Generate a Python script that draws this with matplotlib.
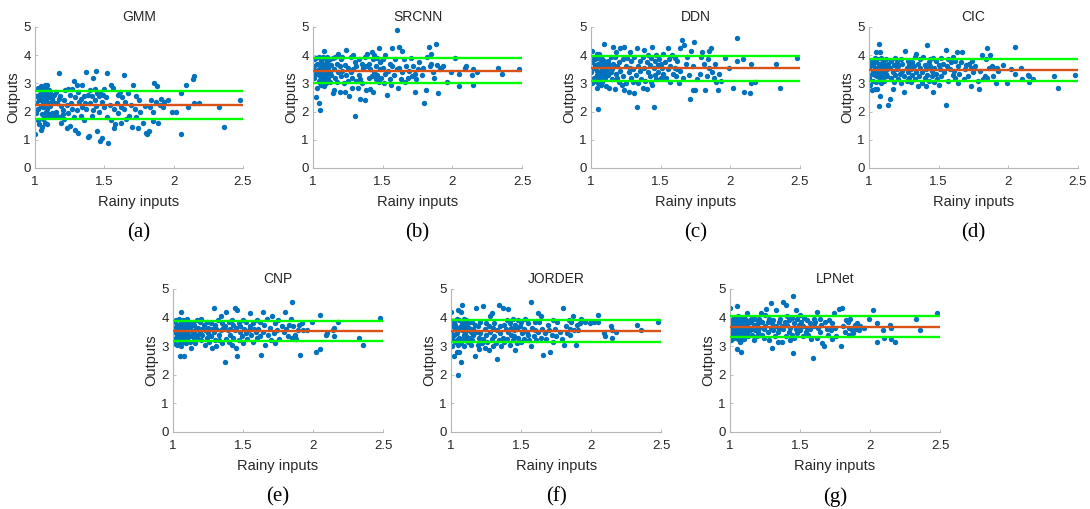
import matplotlib
matplotlib.use("Agg")
import matplotlib.pyplot as plt
import numpy as np

# quality score of the rainy input images (shared by every method)
rainy = [
    1.00, 1.00, 1.01, 1.01, 1.01, 1.02, 1.02, 1.02, 1.03, 1.03,
    1.03, 1.04, 1.04, 1.04, 1.04, 1.05, 1.05, 1.05, 1.05, 1.06,
    1.06, 1.06, 1.06, 1.07, 1.07, 1.07, 1.07, 1.08, 1.08, 1.08,
    1.08, 1.08, 1.09, 1.09, 1.09, 1.09, 1.10, 1.10, 1.10, 1.10,
    1.11, 1.11, 1.11, 1.12, 1.12, 1.12, 1.13, 1.13, 1.14, 1.14,
    1.15, 1.15, 1.16, 1.16, 1.17, 1.17, 1.18, 1.18, 1.19, 1.19,
    1.20, 1.20, 1.21, 1.21, 1.22, 1.23, 1.23, 1.24, 1.24, 1.25,
    1.25, 1.26, 1.27, 1.27, 1.28, 1.28, 1.29, 1.29, 1.30, 1.30,
    1.31, 1.31, 1.32, 1.33, 1.33, 1.34, 1.34, 1.35, 1.35, 1.36,
    1.37, 1.37, 1.38, 1.38, 1.39, 1.40, 1.40, 1.41, 1.41, 1.42,
    1.42, 1.43, 1.43, 1.44, 1.44, 1.45, 1.45, 1.46, 1.46, 1.47,
    1.47, 1.48, 1.48, 1.49, 1.50, 1.50, 1.51, 1.52, 1.52, 1.53,
    1.54, 1.55, 1.55, 1.56, 1.57, 1.57, 1.58, 1.59, 1.60, 1.60,
    1.61, 1.62, 1.62, 1.63, 1.64, 1.64, 1.65, 1.66, 1.67, 1.68,
    1.69, 1.70, 1.71, 1.72, 1.73, 1.73, 1.74, 1.75, 1.76, 1.78,
    1.79, 1.80, 1.81, 1.82, 1.83, 1.84, 1.85, 1.85, 1.86, 1.87,
    1.88, 1.89, 1.90, 1.91, 1.92, 1.93,
    1.96, 1.99, 2.02, 2.05, 2.05, 2.09, 2.10, 2.14, 2.15, 2.15,
    2.18, 2.33, 2.36, 2.48,
]

gmm_out = [
    1.20, 2.05, 2.55, 1.95, 2.30, 2.85, 2.10, 1.70, 2.60, 2.40,
    1.55, 2.90, 2.20, 1.35, 2.70, 2.50, 1.90, 2.80, 1.45, 2.65,
    2.15, 2.35, 1.75, 2.95, 2.50, 1.60, 2.25, 2.70, 2.00, 2.85,
    1.80, 2.40, 2.95, 2.10, 1.55, 2.60, 2.30, 2.75, 1.90, 2.50,
    2.20, 1.85, 2.65, 2.45, 1.95, 2.55, 1.85, 2.35, 2.60, 1.90,
    2.00, 2.70, 1.85, 2.30, 3.38, 2.45, 1.80, 2.55, 1.60, 2.20,
    2.05, 1.90, 2.40, 1.75, 2.75, 1.40, 2.25, 2.80, 1.95, 2.60,
    1.50, 2.30, 2.10, 2.80, 1.80, 3.10, 2.50, 1.35, 2.95, 2.05,
    1.25, 2.70, 2.35, 1.85, 2.45, 2.95, 2.15, 1.70, 2.55, 2.30,
    3.40, 2.10, 1.10, 2.60, 1.15, 2.30, 2.75, 1.85, 2.55, 3.20,
    2.05, 2.40, 2.80, 3.45, 2.20, 2.65, 1.30, 2.00, 2.55, 0.95,
    2.70, 1.05, 2.35, 2.60, 2.15, 2.80, 2.50, 1.80, 3.38, 0.88,
    2.25, 2.95, 1.70, 2.85, 1.40, 2.10, 1.55, 2.30, 2.60, 1.95,
    2.70, 2.15, 1.60, 2.50, 3.28, 2.10, 2.35, 1.75, 2.65, 1.85,
    2.25, 1.45, 2.95, 2.10, 1.80, 2.55, 1.40, 2.40, 2.00, 1.60,
    2.20, 1.25, 1.20, 1.30, 2.15, 2.40, 1.65, 2.00, 3.00, 2.35,
    2.90, 1.60, 2.25, 2.45, 2.15, 2.35,
    2.40, 2.00, 2.00, 1.20, 2.65, 2.95, 2.15, 3.15, 3.25, 2.30,
    2.30, 2.15, 1.45, 2.40,
]

srcnn_out = [
    3.55, 3.30, 3.85, 3.20, 3.60, 2.50, 3.45, 3.90, 2.85, 3.35,
    3.70, 2.30, 3.10, 3.50, 3.95, 2.05, 3.25, 3.65, 3.00, 3.40,
    3.80, 2.95, 3.55, 3.15, 3.70, 3.30, 3.95, 2.90, 3.50, 4.15,
    3.05, 3.60, 3.85, 3.25, 3.45, 3.00, 3.75, 3.35, 3.95, 3.10,
    3.55, 3.70, 3.20, 3.85, 3.40, 3.05, 3.65, 3.30, 2.65, 3.90,
    3.50, 2.75, 3.95, 3.20, 3.05, 3.70, 3.40, 4.05, 2.70, 3.60,
    3.85, 3.25, 3.95, 3.45, 3.00, 2.70, 3.65, 3.30, 4.20, 3.55,
    3.10, 2.55, 3.40, 3.95, 3.20, 2.85, 4.00, 3.50, 1.85, 3.75,
    3.10, 3.60, 2.85, 3.30, 3.85, 2.45, 3.15, 3.70, 3.00, 3.55,
    2.40, 3.95, 2.75, 3.60, 4.05, 3.20, 3.70, 2.80, 3.50, 4.10,
    3.25, 3.85, 2.70, 3.40, 4.00, 3.15, 3.60, 3.90, 3.30, 4.25,
    3.05, 3.50, 3.75, 3.20, 3.55, 3.85, 3.00, 3.35, 4.00, 2.60,
    3.45, 3.70, 3.15, 2.95, 3.60, 4.25, 3.30, 3.85, 3.50, 4.90,
    2.85, 3.55, 4.30, 3.15, 4.15, 3.40, 3.85, 3.05, 3.60, 3.20,
    3.45, 3.90, 3.25, 3.60, 2.70, 3.35, 3.15, 3.50, 3.75, 3.30,
    3.55, 2.30, 2.75, 3.95, 4.30, 3.60, 3.70, 4.05, 3.40, 3.20,
    4.40, 3.65, 2.65, 3.50, 3.55, 3.60,
    3.05, 3.40, 3.90, 2.90, 3.35, 3.55, 3.60, 3.30, 2.95, 3.50,
    3.40, 3.55, 3.35, 3.50,
]

ddn_out = [
    3.80, 3.40, 4.15, 3.00, 3.75, 3.55, 3.20, 3.95, 3.65, 3.10,
    3.85, 2.85, 3.45, 4.05, 3.30, 2.10, 3.70, 3.00, 3.90, 3.35,
    3.60, 3.15, 4.05, 2.95, 3.75, 3.40, 3.25, 3.85, 3.50, 3.05,
    3.65, 3.30, 4.40, 3.50, 3.15, 3.80, 3.60, 3.35, 3.70, 3.20,
    3.45, 3.65, 2.90, 3.55, 3.80, 3.30, 2.85, 3.65, 3.40, 3.95,
    3.50, 3.15, 4.30, 3.70, 2.80, 3.95, 3.35, 4.10, 3.60, 3.20,
    3.75, 3.05, 4.25, 3.45, 2.95, 3.85, 3.25, 4.30, 2.75, 3.60,
    3.00, 3.90, 3.40, 2.70, 4.10, 3.55, 3.20, 3.80, 3.05, 3.50,
    3.95, 2.65, 3.30, 2.15, 4.25, 3.60, 3.00, 3.80, 3.45, 3.15,
    3.95, 2.85, 3.55, 4.20, 3.10, 3.75, 2.80, 3.40, 4.00, 3.25,
    3.65, 3.05, 3.90, 2.95, 4.30, 2.15, 3.55, 3.80, 3.30, 4.00,
    3.15, 3.65, 3.40, 3.85, 3.20, 3.70, 3.55, 3.35, 4.05, 3.75,
    3.20, 4.25, 3.50, 3.85, 3.05, 3.60, 4.00, 3.35, 3.55, 3.90,
    3.25, 3.50, 3.80, 3.00, 4.25, 3.45, 4.55, 3.20, 4.35, 3.70,
    3.95, 3.30, 2.45, 4.15, 2.75, 3.60, 4.45, 2.75, 3.15, 3.35,
    3.95, 4.10, 3.70, 2.75, 3.25, 3.85, 3.55, 4.15, 4.25, 3.40,
    3.20, 3.70, 3.05, 2.75, 3.35, 3.10,
    3.90, 3.55, 2.85, 4.60, 3.80, 3.85, 2.70, 2.65, 3.70, 3.00,
    3.05, 3.70, 2.85, 3.90,
]

cic_out = [
    3.55, 3.20, 3.70, 2.95, 3.60, 3.35, 2.75, 3.80, 3.45, 3.10,
    3.65, 3.30, 3.90, 3.50, 2.80, 3.40, 3.75, 3.05, 4.10, 2.80,
    3.55, 3.25, 3.85, 4.40, 2.20, 3.60, 3.35, 2.55, 3.70, 4.10,
    3.15, 3.50, 3.90, 3.30, 3.65, 3.00, 3.80, 3.40, 3.55, 3.20,
    3.70, 3.45, 3.10, 3.85, 3.35, 3.60, 3.25, 3.50, 2.25, 3.70,
    2.45, 3.55, 3.20, 3.80, 3.40, 2.80, 3.65, 3.05, 3.90, 3.30,
    3.50, 3.75, 3.15, 3.60, 3.35, 3.85, 3.00, 3.45, 3.70, 2.70,
    3.25, 4.15, 3.55, 3.10, 3.80, 3.40, 3.20, 3.65, 3.05, 3.50,
    3.75, 3.30, 3.60, 3.95, 3.15, 4.05, 3.40, 2.90, 3.70, 3.25,
    3.55, 3.85, 3.00, 3.40, 3.95, 3.20, 3.65, 3.50, 2.90, 4.35,
    3.30, 3.75, 3.10, 3.60, 3.85, 3.25, 3.45, 2.70, 3.90, 3.05,
    3.55, 3.35, 3.80, 3.15, 3.65, 2.95, 3.50, 3.90, 3.25, 3.70,
    3.40, 4.20, 2.25, 3.60, 3.85, 3.10, 3.50, 3.75, 3.30, 3.95,
    3.45, 3.20, 3.80, 4.10, 3.00, 3.60, 3.35, 3.75, 4.10, 3.15,
    3.50, 3.65, 3.25, 3.70, 2.90, 3.55, 3.80, 3.40, 3.60, 3.10,
    2.80, 3.45, 4.00, 3.15, 3.25, 3.85, 4.25, 3.20, 3.55, 4.00,
    3.60, 3.25, 3.55, 3.00, 3.55, 3.45,
    3.65, 3.00, 3.50, 4.30, 3.35, 3.55, 3.15, 3.30, 3.25, 3.05,
    3.15, 3.25, 2.85, 3.30,
]

cnp_out = [
    3.50, 3.85, 3.25, 3.65, 3.10, 3.45, 3.90, 3.30, 3.60, 3.05,
    3.75, 3.40, 3.55, 3.20, 3.95, 2.65, 3.50, 3.70, 3.15, 4.20,
    3.35, 3.80, 3.00, 3.60, 3.45, 3.25, 3.90, 2.65, 3.55, 3.70,
    3.15, 3.40, 3.85, 3.30, 3.60, 3.10, 3.75, 3.50, 3.95, 3.25,
    3.60, 3.40, 3.80, 3.15, 3.55, 3.35, 3.70, 2.95, 3.45, 3.85,
    3.30, 3.75, 3.55, 3.10, 3.90, 3.40, 3.65, 3.25, 3.85, 3.50,
    3.95, 3.20, 3.60, 3.40, 3.75, 3.05, 3.55, 3.85, 3.30, 3.65,
    3.45, 3.15, 3.80, 3.35, 3.60, 2.95, 4.35, 3.50, 3.20, 3.75,
    3.00, 3.60, 3.90, 3.40, 3.20, 4.05, 3.55, 3.80, 3.10, 3.65,
    2.45, 3.70, 3.25, 4.20, 3.55, 3.85, 3.15, 3.60, 3.40, 3.90,
    3.05, 3.75, 3.30, 4.35, 3.55, 3.65, 2.95, 4.25, 2.65, 3.80,
    3.20, 3.50, 3.70, 3.35, 3.90, 3.10, 3.60, 3.45, 3.85, 3.25,
    3.55, 3.70, 4.15, 3.40, 3.80, 3.15, 3.60, 3.50, 3.90, 3.30,
    3.60, 3.35, 3.85, 2.70, 4.20, 3.50, 3.75, 3.05, 3.95, 3.40,
    3.65, 3.20, 4.05, 3.45, 3.10, 3.80, 3.55, 3.90, 3.25, 3.70,
    3.50, 4.20, 3.60, 3.35, 3.75, 3.95, 4.55, 3.30, 3.70, 3.40,
    3.25, 3.55, 3.75, 2.70, 3.80, 3.55,
    3.55, 3.85, 2.80, 4.10, 2.90, 3.40, 3.45, 3.55, 3.65, 3.35,
    3.85, 3.30, 3.05, 4.00,
]

jorder_out = [
    3.50, 4.20, 3.00, 3.70, 3.25, 3.85, 2.65, 3.40, 3.60, 3.15,
    3.75, 2.80, 3.45, 3.95, 3.20, 2.00, 4.25, 3.55, 3.05, 3.65,
    2.80, 3.90, 3.30, 2.45, 3.70, 4.20, 3.10, 4.45, 3.55, 3.85,
    3.25, 3.65, 3.95, 3.40, 3.00, 3.75, 3.50, 3.85, 3.20, 3.60,
    3.70, 3.35, 3.90, 3.15, 3.55, 3.80, 3.30, 3.65, 3.05, 3.50,
    3.85, 3.20, 3.60, 3.40, 3.75, 2.65, 4.35, 3.50, 3.05, 3.70,
    3.30, 2.90, 3.85, 3.45, 3.10, 4.40, 3.25, 3.60, 2.95, 3.80,
    3.40, 3.15, 3.70, 2.85, 4.05, 3.50, 3.25, 4.15, 3.00, 3.65,
    3.35, 3.80, 3.10, 3.55, 2.55, 4.45, 3.20, 3.70, 3.45, 3.00,
    4.35, 3.30, 3.75, 3.15, 3.60, 3.90, 3.25, 4.30, 3.50, 3.05,
    3.80, 3.40, 3.65, 3.20, 3.95, 3.55, 3.35, 2.85, 3.75, 3.10,
    3.60, 3.90, 3.30, 3.70, 3.15, 3.85, 3.45, 3.60, 3.25, 3.95,
    3.50, 3.40, 3.80, 3.20, 4.55, 3.00, 3.65, 3.35, 3.85, 3.55,
    3.20, 4.15, 3.50, 3.85, 3.30, 4.05, 3.60, 2.70, 3.45, 3.25,
    3.75, 3.55, 2.80, 3.40, 3.90, 3.15, 3.60, 3.35, 3.85, 3.50,
    3.25, 4.35, 3.05, 3.70, 3.45, 3.90, 3.60, 3.40, 3.85, 4.05,
    3.55, 3.05, 3.75, 3.55, 3.80, 3.95,
    3.85, 3.80, 3.85, 4.10, 3.85, 3.45, 3.35, 3.70, 3.30, 3.55,
    3.50, 3.75, 3.55, 3.85,
]

lpnet_out = [
    4.35, 3.45, 3.80, 3.20, 3.65, 3.95, 3.35, 3.70, 3.50, 4.00,
    3.30, 3.85, 3.55, 3.40, 3.75, 4.40, 2.90, 3.60, 3.90, 3.25,
    3.70, 3.45, 4.05, 3.15, 3.80, 3.55, 3.35, 2.80, 3.95, 3.65,
    3.20, 3.75, 3.50, 3.90, 3.30, 3.60, 4.00, 3.40, 3.85, 3.25,
    3.70, 3.55, 3.95, 3.45, 4.15, 3.65, 3.35, 3.80, 3.55, 3.90,
    3.60, 3.85, 3.40, 4.00, 3.20, 3.75, 3.55, 3.95, 3.35, 3.70,
    3.80, 3.50, 3.95, 3.65, 4.15, 3.40, 3.85, 3.60, 3.30, 4.10,
    3.70, 4.30, 3.50, 3.85, 3.20, 3.95, 3.65, 4.50, 2.95, 3.80,
    3.55, 3.90, 3.35, 4.25, 3.70, 3.50, 3.15, 3.85, 3.60, 3.95,
    3.70, 3.15, 4.55, 3.60, 3.85, 4.45, 3.35, 3.75, 4.05, 3.50,
    3.90, 3.20, 3.65, 4.00, 3.40, 4.75, 2.75, 3.80, 3.30, 4.25,
    3.60, 3.95, 3.45, 3.75, 4.10, 3.55, 3.85, 3.35, 3.70, 4.00,
    3.50, 3.65, 3.90, 3.40, 3.80, 3.60, 3.25, 2.60, 3.95, 3.70,
    3.85, 3.30, 4.20, 3.65, 3.95, 3.50, 3.75, 3.10, 3.00, 3.85,
    3.60, 3.40, 3.90, 3.55, 3.80, 3.25, 4.15, 3.65, 3.35, 4.30,
    3.00, 4.35, 3.70, 3.50, 3.90, 3.85, 3.40, 3.65, 3.95, 3.55,
    3.45, 3.75, 3.60, 3.80, 3.55, 3.70,
    3.65, 3.95, 4.25, 3.15, 3.80, 3.55, 3.30, 3.75, 3.25, 3.65,
    3.15, 3.95, 3.55, 4.15,
]

methods = ["GMM", "SRCNN", "DDN", "CIC", "CNP", "JORDER", "LPNet"]
tags = ["(a)", "(b)", "(c)", "(d)", "(e)", "(f)", "(g)"]
outputs = [gmm_out, srcnn_out, ddn_out, cic_out, cnp_out, jorder_out, lpnet_out]

# mean output and the mean -/+ one standard deviation band
mean_vals = [2.23, 3.45, 3.53, 3.47, 3.53, 3.53, 3.68]
low_vals = [1.74, 3.00, 3.09, 3.10, 3.19, 3.15, 3.33]
high_vals = [2.74, 3.89, 3.98, 3.86, 3.88, 3.92, 4.06]

x_ticks = [1, 1.5, 2, 2.5]
x_labels = ["1", "1.5", "2", "2.5"]
y_ticks = [0, 1, 2, 3, 4, 5]

plt.rcParams["font.family"] = ["Liberation Sans", "DejaVu Sans"]

fig = plt.figure(figsize=(10.9, 5.09), dpi=100)

# axes boxes in figure fractions: [left, bottom, width, height]
boxes = [
    [0.0321, 0.670, 0.1908, 0.277],
    [0.2872, 0.670, 0.1917, 0.277],
    [0.5422, 0.670, 0.1917, 0.277],
    [0.7972, 0.670, 0.1917, 0.277],
    [0.1587, 0.1513, 0.1927, 0.281],
    [0.4138, 0.1513, 0.1927, 0.281],
    [0.6697, 0.1513, 0.1927, 0.281],
]
tag_y = [0.542, 0.542, 0.542, 0.542, 0.024, 0.024, 0.024]

axis_grey = "#b5b5b5"
text_dark = "#262626"

x = np.array(rainy)
for i, name in enumerate(methods):
    ax = fig.add_axes(boxes[i])
    y = np.array(outputs[i])
    ax.scatter(x, y, s=15, color="#0072BD", linewidths=0, zorder=2)
    ax.axhline(high_vals[i], color="#00FF00", lw=1.7, zorder=3)
    ax.axhline(mean_vals[i], color="#D95319", lw=1.7, zorder=3)
    ax.axhline(low_vals[i], color="#00FF00", lw=1.7, zorder=3)

    ax.set_xlim(1, 2.5)
    ax.set_ylim(0, 5)
    ax.set_xticks(x_ticks)
    ax.set_xticklabels(x_labels)
    ax.set_yticks(y_ticks)
    for side in ["top", "right"]:
        ax.spines[side].set_visible(False)
    for side in ["left", "bottom"]:
        ax.spines[side].set_color(axis_grey)
        ax.spines[side].set_linewidth(0.8)
    ax.tick_params(direction="in", length=2.5, width=0.6, color=axis_grey,
                   labelsize=9.5, labelcolor=text_dark)
    ax.tick_params(axis="x", pad=5.5)
    ax.tick_params(axis="y", pad=3)

    ax.set_title(name, fontsize=10, color=text_dark, pad=4)
    ax.set_xlabel("Rainy inputs", fontsize=10.5, color=text_dark, labelpad=5)
    ax.set_ylabel("Outputs", fontsize=10.5, color=text_dark, labelpad=2)

    cx = boxes[i][0] + boxes[i][2] / 2
    fig.text(cx, tag_y[i], tags[i], ha="center", va="center",
             fontsize=15, family="Liberation Serif", color="black")

fig.savefig("out.png", dpi=100)
